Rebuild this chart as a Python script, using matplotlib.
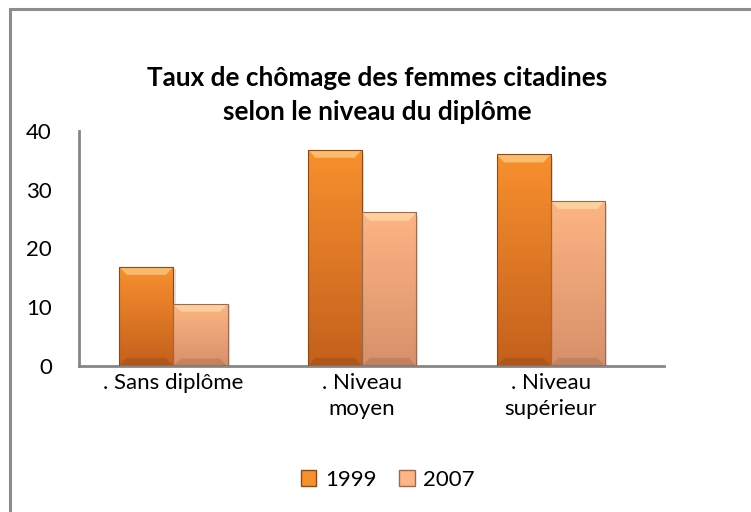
import numpy as np
import matplotlib
matplotlib.use('Agg')
from matplotlib import pyplot as plt
from matplotlib.patches import Rectangle, Patch

# data
categories = ['. Sans diplôme', '. Niveau\nmoyen', '. Niveau\nsupérieur']
series_names = ['1999', '2007']
values_1999 = [16.9, 36.8, 36.0]
values_2007 = [10.5, 26.1, 28.1]
yticks = [0, 10, 20, 30, 40]

col_top = {'1999': '#F8902E', '2007': '#FDB584'}
col_bot = {'1999': '#C4601C', '2007': '#D8906A'}
col_edge = {'1999': '#8A4A16', '2007': '#9A6A50'}

plt.rcParams['font.family'] = ['Lato', 'DejaVu Sans']

fig = plt.figure(figsize=(7.51, 5.12), dpi=100)
# outer chart border (only top and left visible in the crop)
fig.patches.append(Rectangle((10/751, -0.1), 1.2, 1 - 8.5/512 + 0.1, transform=fig.transFigure,
                             fill=False, edgecolor='#8C8C8C', linewidth=2.2, zorder=0))

ax = fig.add_axes([79/751, 1 - 366/512, 585/751, (366 - 130.7)/512])
x = np.arange(len(categories))
w = 0.287

def gradient_bars(bars, name):
    for b in bars:
        x0, y0 = b.get_x(), b.get_y()
        bw, bh = b.get_width(), b.get_height()
        t = np.linspace(0, 1, 64).reshape(-1, 1)
        c1 = np.array(matplotlib.colors.to_rgb(col_top[name]))
        c2 = np.array(matplotlib.colors.to_rgb(col_bot[name]))
        img = (c1 * (1 - t) + c2 * t)[:, None, :].repeat(2, axis=1)
        im = ax.imshow(img, extent=[x0, x0 + bw, y0, y0 + bh], aspect='auto',
                       origin='upper', zorder=2)
        im.set_clip_path(b)
        # bevel highlight at the top
        hb = min(bh * 0.12, 1.4)
        ax.fill([x0, x0 + bw, x0 + bw * 0.86, x0 + bw * 0.14],
                [y0 + bh, y0 + bh, y0 + bh - hb, y0 + bh - hb],
                color='#FFF3C0', alpha=0.45, linewidth=0, zorder=3)
        # darker bevel at the bottom
        ax.fill([x0, x0 + bw, x0 + bw * 0.86, x0 + bw * 0.14],
                [y0, y0, y0 + hb, y0 + hb],
                color='#000000', alpha=0.10, linewidth=0, zorder=3)
        # shadow to the right
        ax.add_patch(Rectangle((x0 + bw, y0), bw * 0.04, bh * 0.98, color='#000000',
                               alpha=0.12, linewidth=0, zorder=1))

b1 = ax.bar(x - w/2, values_1999, w, color=col_top['1999'], edgecolor=col_edge['1999'],
            linewidth=0.8, zorder=2)
b2 = ax.bar(x + w/2, values_2007, w, color=col_top['2007'], edgecolor=col_edge['2007'],
            linewidth=0.8, zorder=2)
gradient_bars(b1, '1999')
gradient_bars(b2, '2007')
for b in list(b1) + list(b2):
    b.set_facecolor('none')
    b.set_zorder(4)

ax.set_xlim(-0.5, 2.6)
ax.set_ylim(0, 40)
ax.set_yticks(yticks)
ax.set_yticklabels([str(v) for v in yticks], fontsize=16)
ax.set_xticks(x)
ax.set_xticklabels(categories, fontsize=16, linespacing=1.35)
ax.tick_params(axis='both', length=0)
ax.tick_params(axis='y', pad=19.5)
ax.tick_params(axis='x', pad=5)
for s in ['top', 'right']:
    ax.spines[s].set_visible(False)
for s in ['left', 'bottom']:
    ax.spines[s].set_color('#868686')
    ax.spines[s].set_linewidth(2)

fig.text(377/751, 1 - 95/512, 'Taux de chômage des femmes citadines\nselon le niveau du diplôme',
         ha='center', va='center', fontsize=18.8, fontweight='bold', linespacing=1.45)

handles = [Patch(facecolor=col_top[n], edgecolor=col_edge[n], label=n) for n in series_names]
fig.legend(handles=handles, loc='center', bbox_to_anchor=(388/751, 1 - 480/512), ncol=2,
           frameon=False, fontsize=16, handlelength=0.7, handleheight=0.7,
           handletextpad=0.4, columnspacing=1.0)

fig.savefig('out.png', dpi=100)
